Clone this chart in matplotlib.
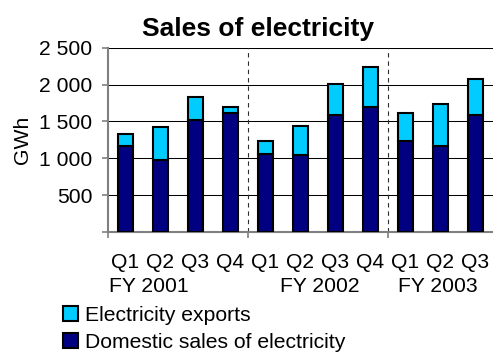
import matplotlib
matplotlib.use("Agg")
import matplotlib.pyplot as plt
from matplotlib.patches import Patch
from matplotlib.ticker import FuncFormatter, FixedLocator

# Data (GWh)
quarters = ["Q1", "Q2", "Q3", "Q4", "Q1", "Q2", "Q3", "Q4", "Q1", "Q2", "Q3"]
years = ["FY 2001", "FY 2002", "FY 2003"]
domestic = [1165, 980, 1520, 1610, 1060, 1050, 1580, 1700, 1230, 1170, 1590]
exports = [170, 450, 310, 90, 180, 390, 430, 540, 380, 560, 480]

FS = 15.2
plt.rcParams['font.family'] = ['Liberation Sans', 'DejaVu Sans']
plt.rcParams['xtick.major.pad'] = 15

fig = plt.figure(figsize=(4.93, 3.53), dpi=100)
ax = fig.add_axes([0.219, 0.343, 0.852, 0.522])

x = list(range(len(quarters)))
ax.bar(x, domestic, width=0.43, color="#000080", edgecolor="black", linewidth=1.5,
       zorder=3, label="Domestic sales of electricity")
ax.bar(x, exports, width=0.43, bottom=domestic, color="#00CCFF", edgecolor="black",
       linewidth=1.5, zorder=3, label="Electricity exports")

ax.set_xlim(-0.5, 11.5)
ax.set_ylim(0, 2500)

# horizontal gridlines
ax.yaxis.set_major_locator(FixedLocator([0, 500, 1000, 1500, 2000, 2500]))
ax.yaxis.set_major_formatter(FuncFormatter(
    lambda v, p: "" if v == 0 else f"{int(v):,}".replace(",", " ")))
ax.grid(axis="y", color="black", linewidth=0.75, zorder=1)
ax.tick_params(axis="y", labelsize=FS, length=4.3, width=1.2, color="#808080", pad=7)

# year separators
for sep in [3.5, 7.5]:
    ax.axvline(sep, color="#303030", linestyle=(0, (4, 3.5)), linewidth=0.8, zorder=2)

# x ticks: quarter labels, marks only at year boundaries
ax.set_xticks(x)
ax.set_xticklabels(quarters, fontsize=FS)
ax.tick_params(axis="x", which="major", length=0, pad=15)
ax.set_xticks([-0.5, 3.5, 7.5], minor=True)
ax.tick_params(axis="x", which="minor", length=4.3, width=1.2, color="#808080")

for pos, yr in zip([0.67, 5.56, 8.93], years):
    ax.text(pos, -0.298, yr, transform=ax.get_xaxis_transform(), ha="center",
            va="center", fontsize=FS)

for side in ["top", "right"]:
    ax.spines[side].set_visible(False)
for side in ["left", "bottom"]:
    ax.spines[side].set_color("#808080")
    ax.spines[side].set_linewidth(1.5)

ax.set_ylabel("GWh", fontsize=FS, labelpad=5)
fig.text(0.523, 0.898, "Sales of electricity", ha="center", va="baseline",
         fontsize=19, fontweight="bold")

handles = [Patch(facecolor="#00CCFF", edgecolor="black", linewidth=1.5),
           Patch(facecolor="#000080", edgecolor="black", linewidth=1.5)]
fig.legend(handles, ["Electricity exports", "Domestic sales of electricity"],
           loc="upper left", bbox_to_anchor=(0.128, 0.134), frameon=False,
           fontsize=FS, handlelength=0.7, handleheight=0.7, handletextpad=0.33,
           labelspacing=0.38, borderaxespad=0, borderpad=0)

fig.savefig("out.png", dpi=100)
